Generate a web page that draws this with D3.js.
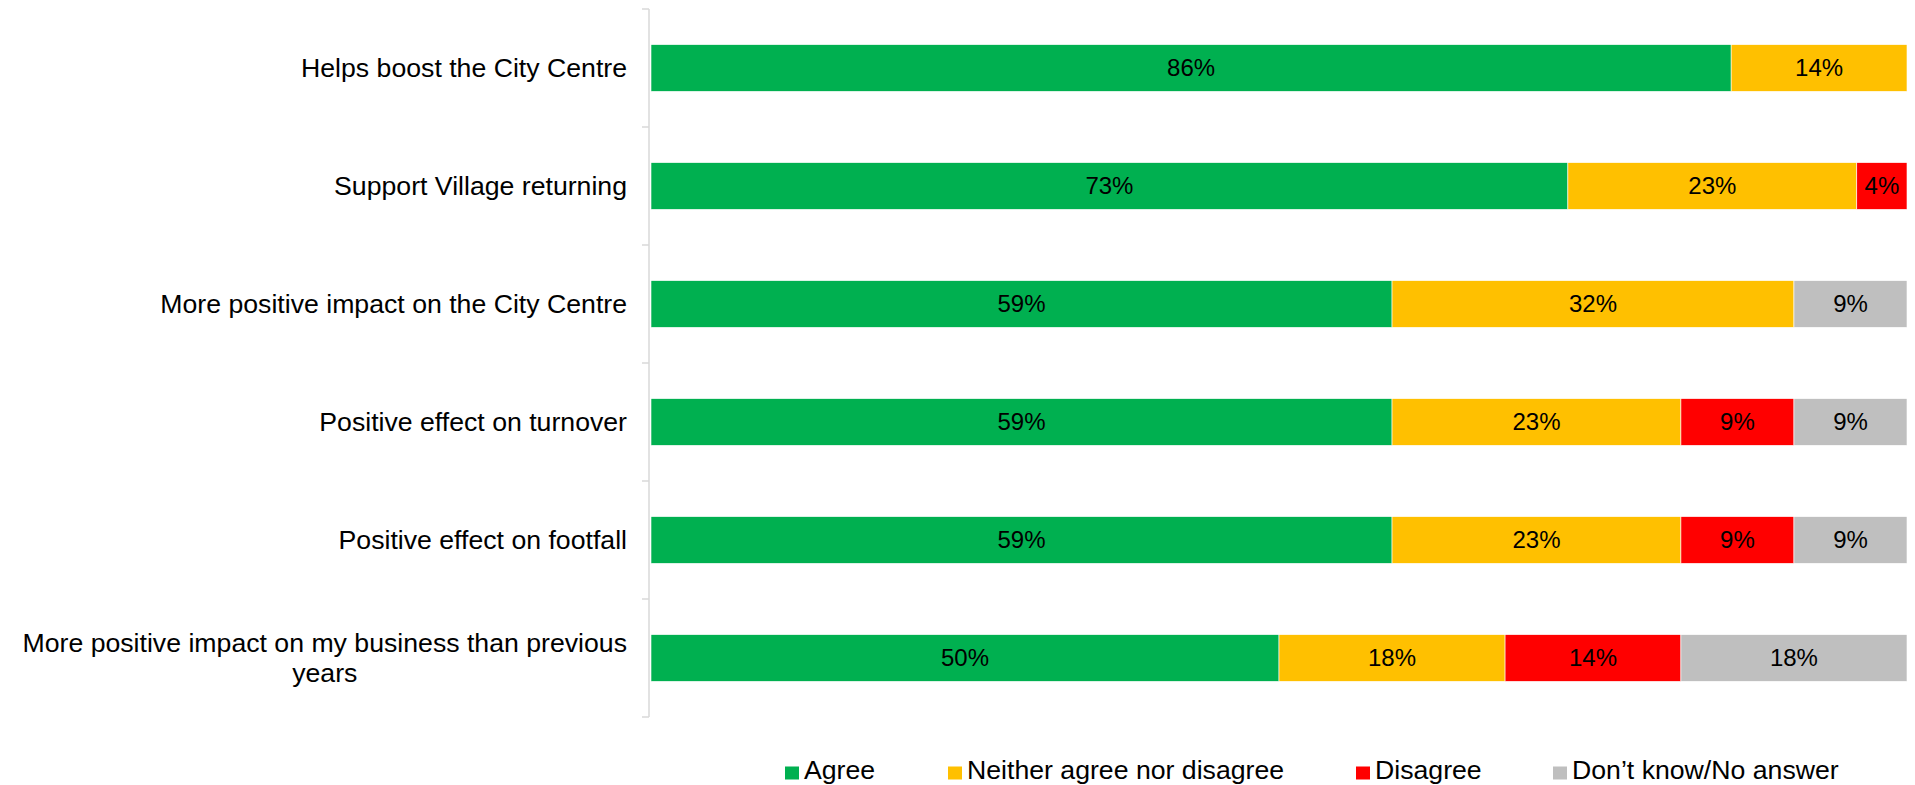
<!DOCTYPE html>
<html>
<head>
<meta charset="utf-8">
<script src="https://cdn.jsdelivr.net/npm/d3@7"></script>
<style>
  html, body { margin: 0; padding: 0; background: #ffffff; }
  svg { display: block; font-family: "Liberation Sans", Arial, sans-serif; }
</style>
</head>
<body>
<svg id="chart" width="1915" height="785"></svg>
<script>
// Survey statements (top to bottom)
const categories = [
  "Helps boost the City Centre",
  "Support Village returning",
  "More positive impact on the City Centre",
  "Positive effect on turnover",
  "Positive effect on footfall",
  "More positive impact on my business than previous years"
];

// Response shares per statement, in percent
const agree    = [86, 73, 59, 59, 59, 50];
const neither  = [14, 23, 32, 23, 23, 18];
const disagree = [0, 4, 0, 9, 9, 14];
const dontKnow = [0, 0, 9, 9, 9, 18];

const seriesNames = ["Agree", "Neither agree nor disagree", "Disagree", "Don\u2019t know/No answer"];
const seriesColors = ["#00B050", "#FFC000", "#FF0000", "#BFBFBF"];

// Wrapped lines for category labels
const labelLines = {
  "More positive impact on my business than previous years":
    ["More positive impact on my business than previous", "years"]
};

const svg = d3.select("#chart");

const plot = { left: 651, right: 1907, top: 9, bottom: 717 };
const axisX = 649;
const catFont = 26.67;   // 20pt
const valueFont = 24;    // 18pt

const x = d3.scaleLinear().domain([0, 100]).range([plot.left, plot.right]);
const y = d3.scaleBand().domain(categories).range([plot.top, plot.bottom]).paddingInner(0.604).paddingOuter(0.302);
const yBand = d3.scaleBand().domain(categories).range([plot.top, plot.bottom]);

const rows = categories.map((c, i) => ({ cat: c, values: [agree[i], neither[i], disagree[i], dontKnow[i]] }));
const stack = d3.stack().keys([0, 1, 2, 3]).value((d, k) => d.values[k]);
const stacked = stack(rows);

// Stacked bar segments
const layers = svg.append("g").selectAll("g")
  .data(stacked)
  .join("g")
  .attr("fill", (d, i) => seriesColors[i]);

layers.selectAll("rect")
  .data(d => d.filter(s => s[1] - s[0] > 0))
  .join("rect")
  .attr("x", d => x(d[0]))
  .attr("y", d => y(d.data.cat))
  .attr("width", d => x(d[1]) - x(d[0]))
  .attr("height", y.bandwidth())
  .attr("stroke", "#ffffff")
  .attr("stroke-width", 0.6);

// Value labels inside segments
const labelG = svg.append("g")
  .attr("font-size", valueFont)
  .attr("fill", "#000000")
  .attr("text-anchor", "middle");

stacked.forEach(layer => {
  layer.forEach(s => {
    const v = s[1] - s[0];
    if (v <= 0) return;
    labelG.append("text")
      .attr("x", (x(s[0]) + x(s[1])) / 2)
      .attr("y", y(s.data.cat) + y.bandwidth() / 2)
      .attr("dy", "0.35em")
      .text(v + "%");
  });
});

// Category axis: vertical line with tick marks between categories
const axisG = svg.append("g").attr("stroke", "#D9D9D9").attr("stroke-width", 1.5);
axisG.append("line")
  .attr("x1", axisX).attr("x2", axisX)
  .attr("y1", plot.top).attr("y2", plot.bottom);
const tickYs = categories.map(c => yBand(c)).concat([plot.bottom]);
axisG.selectAll("line.tick")
  .data(tickYs)
  .join("line")
  .attr("class", "tick")
  .attr("x1", axisX - 7).attr("x2", axisX)
  .attr("y1", d => d).attr("y2", d => d);

// Category labels, right aligned next to the axis
const catG = svg.append("g").attr("font-size", catFont).attr("fill", "#000000");
const labelRight = 627;
categories.forEach(c => {
  const lines = labelLines[c] || [c];
  const cy = yBand(c) + yBand.bandwidth() / 2;
  const lh = 30;
  const t = catG.append("text").attr("text-anchor", "middle");
  const spans = lines.map((ln, i) =>
    t.append("tspan")
      .attr("y", cy + (i - (lines.length - 1) / 2) * lh)
      .attr("dy", "0.35em")
      .text(ln)
  );
  // widest line is flush right; others centered under it
  const widths = spans.map(s => s.node().getComputedTextLength());
  const maxW = d3.max(widths);
  const center = labelRight - maxW / 2;
  spans.forEach(s => s.attr("x", center));
});

// Legend
const legendX = [785, 948, 1356, 1553];
const legendY = 773;
const legend = svg.append("g").attr("font-size", catFont);
seriesNames.forEach((name, i) => {
  legend.append("rect")
    .attr("x", legendX[i]).attr("y", legendY - 6.5)
    .attr("width", 14).attr("height", 13)
    .attr("fill", seriesColors[i]);
  legend.append("text")
    .attr("x", legendX[i] + 19)
    .attr("y", 779)
    .attr("fill", "#000000")
    .text(name);
});
</script>
</body>
</html>
